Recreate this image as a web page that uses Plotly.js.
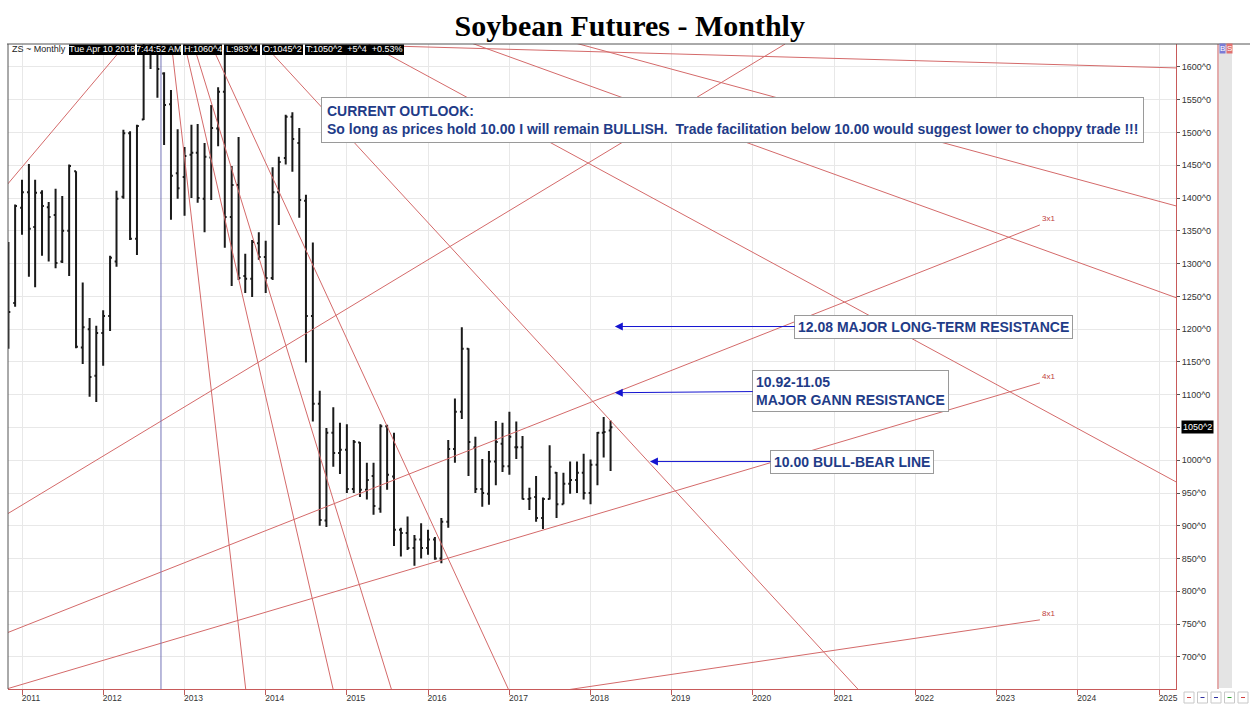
<!DOCTYPE html>
<html>
<head>
<meta charset="utf-8">
<script src="https://cdn.plot.ly/plotly-3.0.1.min.js"></script>
<style>html,body{margin:0;padding:0;background:#fff;}#chart{width:1252px;height:704px;}</style>
</head>
<body>
<div id="chart"></div>
<script>
// ---- Monthly OHLC bars (ZS continuation) ----
const months = ['2010-11-01','2010-12-01',
'2011-01-01','2011-02-01','2011-03-01','2011-04-01','2011-05-01','2011-06-01','2011-07-01','2011-08-01','2011-09-01','2011-10-01','2011-11-01','2011-12-01',
'2012-01-01','2012-02-01','2012-03-01','2012-04-01','2012-05-01','2012-06-01','2012-07-01','2012-08-01','2012-09-01','2012-10-01','2012-11-01','2012-12-01',
'2013-01-01','2013-02-01','2013-03-01','2013-04-01','2013-05-01','2013-06-01','2013-07-01','2013-08-01','2013-09-01','2013-10-01','2013-11-01','2013-12-01',
'2014-01-01','2014-02-01','2014-03-01','2014-04-01','2014-05-01','2014-06-01','2014-07-01','2014-08-01','2014-09-01','2014-10-01','2014-11-01','2014-12-01',
'2015-01-01','2015-02-01','2015-03-01','2015-04-01','2015-05-01','2015-06-01','2015-07-01','2015-08-01','2015-09-01','2015-10-01','2015-11-01','2015-12-01',
'2016-01-01','2016-02-01','2016-03-01','2016-04-01','2016-05-01','2016-06-01','2016-07-01','2016-08-01','2016-09-01','2016-10-01','2016-11-01','2016-12-01',
'2017-01-01','2017-02-01','2017-03-01','2017-04-01','2017-05-01','2017-06-01','2017-07-01','2017-08-01','2017-09-01','2017-10-01','2017-11-01','2017-12-01',
'2018-01-01','2018-02-01','2018-03-01','2018-04-01'];
const opens = [1250,1240,
1385,1409,1356,1408,1386,1374,1303,1350,1441,1172,1200,1129,
1194,1220,1303,1402,1499,1338,1520,1720,1740,1590,1543,1438,
1432,1466,1469,1399,1462,1506,1562,1371,1420,1281,1277,1331,
1310,1278,1409,1461,1524,1484,1396,1220,1086,908,1042,1011,
1016,956,1027,955,976,926,1052,975,894,889,866,879,
866,879,850,906,1017,1074,1170,1020,956,949,998,1025,
991,1020,1020,941,944,912,941,981,933,964,970,981,
950,993,1042,1045.25];
const highs = [1333,1390,
1428,1452,1428,1412,1394,1414,1403,1451,1441,1271,1217,1205,
1229,1312,1411,1504,1502,1512,1760,1790,1780,1592,1565,1505,
1478,1512,1513,1484,1542,1569,1626,1449,1493,1315,1336,1348,
1335,1447,1463,1527,1531,1507,1405,1332,1106,1049,1081,1057,
1055,1031,1028,996,996,1055,1054,1042,897,914,886,904,
894,883,912,1031,1094,1203,1171,1036,1002,1014,1060,1057,
1074,1059,1037,958,976,943,1023,982,981,998,998,1010,
1001,1043,1066,1060.5];
const lows = [1170,1234,
1344,1280,1264,1312,1303,1293,1301,1281,1171,1147,1097,1089,
1144,1197,1295,1399,1336,1313,1519,1597,1553,1481,1367,1399,
1373,1400,1393,1348,1397,1479,1324,1266,1275,1255,1249,1306,
1255,1275,1359,1451,1440,1370,1149,1059,900,898,990,979,
950,950,944,940,917,920,955,869,853,863,839,850,
856,848,843,897,996,1063,976,950,929,932,962,982,
978,1002,940,924,906,895,940,912,933,949,950,940,
933,962,1004,983.5];
const closes = [1226,1388,
1409,1353,1408,1388,1371,1301,1350,1449,1173,1203,1127,1194,
1220,1309,1399,1499,1338,1510,1720,1740,1597,1542,1434,1415,
1464,1469,1400,1463,1507,1562,1371,1420,1278,1277,1333,1310,
1278,1409,1455,1524,1490,1397,1220,1086,909,1042,1011,1016,
956,1028,955,970,930,1052,978,894,889,866,879,866,
879,850,906,1017,1074,1170,1028,956,950,998,1028,991,
1036,1020,941,942,912,941,990,933,964,970,981,950,
993,1042,1043,1050.25];

// ---- Gann fan from the 2003 low (rising): origin and end points ----
const fanUpOrigin = {x:'2003-11-01', y:395};
const fanUpEndX = ['2012-09-21','2020-05-25','2023-07-15','2023-07-15','2023-07-15'];
const fanUpEndY = [1700,1635,1359,1118,756.5];
const fanUpLabels = ['','','3x1','4x1','8x1'];

// ---- Gann fan from the 2012 high (falling): origin and end points ----
const fanDownOrigin = {x:'2012-09-05', y:1809};
const fanDownEndX = ['2013-10-03','2014-10-31','2015-07-20','2016-12-27','2021-04-17','2025-03-18','2025-03-18','2025-03-18'];
const fanDownEndY = [651,651,651,651,651,967,1248,1388];

// ---- Other trend line ----
const topLineX = ['2015-07-14','2025-03-18'];
const topLineY = [1632,1598.5];

const yearTicks = ['2011','2012','2013','2014','2015','2016','2017','2018','2019','2020','2021','2022','2023','2024','2025'];
const priceTicks = [700,750,800,850,900,950,1000,1050,1100,1150,1200,1250,1300,1350,1400,1450,1500,1550,1600];
const priceTickText = priceTicks.map(v => v + '^0');

const RED = '#d46a6a';
const traces = [];
const lineTrace = (xs, ys) => ({type:'scatter', mode:'lines', x:xs, y:ys,
  line:{color:RED, width:1}, hoverinfo:'skip', showlegend:false});
fanUpEndX.forEach((ex,i) => traces.push(lineTrace([fanUpOrigin.x, ex], [fanUpOrigin.y, fanUpEndY[i]])));
fanDownEndX.forEach((ex,i) => traces.push(lineTrace([fanDownOrigin.x, ex], [fanDownOrigin.y, fanDownEndY[i]])));
traces.push(lineTrace(topLineX, topLineY));
traces.push({
  type:'ohlc', x:months, open:opens, high:highs, low:lows, close:closes,
  increasing:{line:{color:'#1a1a1a', width:2}},
  decreasing:{line:{color:'#1a1a1a', width:2}},
  tickwidth:0.3, showlegend:false
});

const px = v => (v - 8) / 1168;       // pixel -> paper x
const py = v => 1 - (v - 44) / 645;   // pixel -> paper y
const FONT = 'Liberation Sans, Arial, sans-serif';
const BLUE_TXT = '#1f3c88';

const shapes = [
  {type:'line', xref:'x', yref:'paper', x0:'2012-09-17', x1:'2012-09-17', y0:0, y1:1, line:{color:'#7474b8', width:1}},
  {type:'rect', xref:'paper', yref:'paper', x0:px(1219), x1:px(1232), y0:py(688), y1:py(44), fillcolor:'#e4e4e4', line:{width:0}, layer:'below'},
  {type:'line', xref:'paper', yref:'paper', x0:px(1218), x1:px(1218), y0:py(689), y1:py(44), line:{color:'#c85a5a', width:1}},
  {type:'line', xref:'paper', yref:'paper', x0:px(7), x1:px(1250), y0:1, y1:1, line:{color:'#555', width:1}},
  {type:'line', xref:'paper', yref:'paper', x0:0, x1:0, y0:0, y1:1, line:{color:'#555', width:1}}
];
const annotations = [
  {xref:'paper', yref:'paper', x:px(10), y:py(49.5), xanchor:'left', yanchor:'middle', showarrow:false,
   text:'ZS ~ Monthly', font:{family:FONT, size:9, color:'#222'}},
];
// header boxes: [text, left edge, right edge] in pixels
const hdr = [['Tue Apr 10 2018',69,135],['7:44:52 AM',137,181],['H:1060^4',183,222],['L:983^4',224,260],['O:1045^2',262,303],['T:1050^2&nbsp; +5^4&nbsp; +0.53%',305,404]];
hdr.forEach(h => {
  shapes.push({type:'rect', xref:'paper', yref:'paper', x0:px(h[1]), x1:px(h[2]), y0:py(55), y1:py(44.5),
    fillcolor:'#000', line:{width:0}, layer:'above'});
  annotations.push({xref:'paper', yref:'paper', x:px((h[1]+h[2])/2), y:py(49.5), xanchor:'center', yanchor:'middle',
    showarrow:false, text:h[0], borderpad:0, font:{family:FONT, size:9, color:'#fff'}});
});

fanUpLabels.forEach((t,i) => { if (t) annotations.push({x:fanUpEndX[i], y:fanUpEndY[i], xanchor:'left', yanchor:'bottom',
  showarrow:false, text:t, font:{family:FONT, size:8, color:'#c04040'}}); });

annotations.push({xref:'paper', yref:'paper', x:px(732.5), y:py(120), xanchor:'center', yanchor:'middle', showarrow:false,
  align:'left', text:'<b>CURRENT OUTLOOK:<br>So long as prices hold 10.00 I will remain BULLISH.&nbsp; Trade facilitation below 10.00 would suggest lower to choppy trade !!!</b>',
  font:{family:FONT, size:14, color:BLUE_TXT}, bgcolor:'#fff', bordercolor:'#9a9a9a', borderwidth:1, borderpad:5});

annotations.push({x:'2018-04-20', y:1204, ax:319, ay:0, showarrow:true, arrowhead:2, arrowsize:1.6, arrowwidth:1, arrowcolor:'#1414d0',
  text:'<b>12.08 MAJOR LONG-TERM RESISTANCE</b>', align:'left',
  font:{family:FONT, size:14, color:BLUE_TXT}, bgcolor:'#fff', bordercolor:'#9a9a9a', borderwidth:1, borderpad:3});
annotations.push({x:'2018-04-20', y:1103, ax:236, ay:-2, showarrow:true, arrowhead:2, arrowsize:1.6, arrowwidth:1, arrowcolor:'#1414d0',
  text:'<b>10.92-11.05<br>MAJOR GANN RESISTANCE</b>', align:'left',
  font:{family:FONT, size:14, color:BLUE_TXT}, bgcolor:'#fff', bordercolor:'#9a9a9a', borderwidth:1, borderpad:3});
annotations.push({x:'2018-09-25', y:998, ax:202, ay:0, showarrow:true, arrowhead:2, arrowsize:1.6, arrowwidth:1, arrowcolor:'#1414d0',
  text:'<b>10.00 BULL-BEAR LINE</b>', align:'left',
  font:{family:FONT, size:14, color:BLUE_TXT}, bgcolor:'#fff', bordercolor:'#9a9a9a', borderwidth:1, borderpad:3});

annotations.push({xref:'paper', yref:'y', x:px(1181), y:1050.25, xanchor:'left', yanchor:'middle', showarrow:false,
  text:'1050^2', bgcolor:'#000', borderpad:1, font:{family:FONT, size:9, color:'#fff'}});
annotations.push({xref:'paper', yref:'paper', x:px(1222), y:py(48.5), xanchor:'center', yanchor:'middle', showarrow:false,
  text:'B', bgcolor:'#7b7bd6', borderpad:0, font:{family:FONT, size:8, color:'#fff'}});
annotations.push({xref:'paper', yref:'paper', x:px(1229), y:py(48.5), xanchor:'center', yanchor:'middle', showarrow:false,
  text:'S', bgcolor:'#e07070', borderpad:0, font:{family:FONT, size:8, color:'#fff'}});

// small toolbar icons at the bottom right
const iconCols = ['#d04040','#3030a0','#3030a0','#30a030','#d04040'];
iconCols.forEach((c,i) => {
  const x0 = 1184 + i*13.5;
  shapes.push({type:'rect', xref:'paper', yref:'paper', x0:px(x0), x1:px(x0+10), y0:py(703), y1:py(692),
    fillcolor:'#fff', line:{color:'#c8c8c8', width:1}});
  shapes.push({type:'line', xref:'paper', yref:'paper', x0:px(x0+3), x1:px(x0+7), y0:py(697.5), y1:py(697.5),
    line:{color:c, width:1}});
});

const layout = {
  width:1252, height:704,
  margin:{l:8, r:76, t:44, b:15},
  paper_bgcolor:'#fff', plot_bgcolor:'#fff',
  title:{text:'<b>Soybean Futures - Monthly</b>', font:{family:'Liberation Serif, Times New Roman, serif', size:30, color:'#000'},
         xref:'container', x:0.503, xanchor:'center', yref:'container', y:1-25/704, yanchor:'middle'},
  xaxis:{type:'date', range:['2010-10-30','2025-03-18'], rangeslider:{visible:false},
         tickvals:yearTicks.map(y => y + '-01-01'), ticktext:yearTicks,
         showgrid:true, gridcolor:'#e8e8e8', gridwidth:1, zeroline:false,
         ticks:'outside', ticklen:5, tickcolor:'#c05a5a', tickwidth:1,
         showline:true, linecolor:'#c85a5a', linewidth:1,
         ticklabelshift:9, ticklabelstandoff:-4,
         tickfont:{family:FONT, size:8.5, color:'#333'}, fixedrange:true},
  yaxis:{side:'right', range:[651,1635], tickvals:priceTicks, ticktext:priceTickText,
         showgrid:true, gridcolor:'#e8e8e8', gridwidth:1, zeroline:false,
         ticks:'outside', ticklen:3, tickcolor:'#555', tickwidth:1,
         showline:true, linecolor:'#c85a5a', linewidth:1,
         tickfont:{family:FONT, size:9, color:'#333'}, fixedrange:true},
  showlegend:false,
  annotations:annotations,
  shapes:shapes
};

Plotly.newPlot('chart', traces, layout, {displayModeBar:false, staticPlot:true});
</script>
</body>
</html>
